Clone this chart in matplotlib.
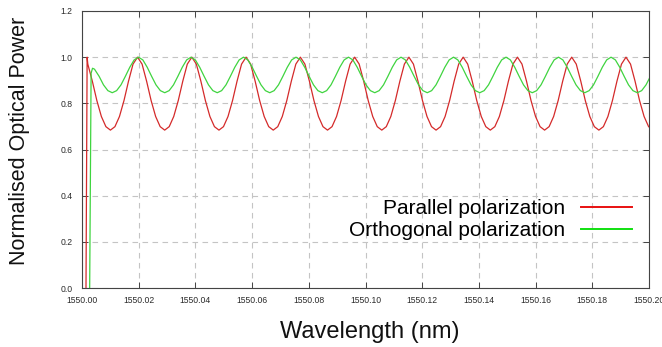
import numpy as np
import matplotlib
matplotlib.use('Agg')
import matplotlib.pyplot as plt
from matplotlib.lines import Line2D
from matplotlib.ticker import FormatStrFormatter

plt.rcParams['font.family'] = ['Liberation Sans', 'DejaVu Sans']

# start-up part of each trace (offset from 1550 nm)
red_start_wl = [0.0014, 0.0018]
red_start_p = [0.0, 1.0]
green_start_wl = [0.0027, 0.0032, 0.0037, 0.0044]
green_start_p = [0.0, 0.93, 0.952, 0.948]

# periodic part at evenly spaced wavelengths
red_wl_first, red_wl_last = 0.00204, 0.20145
red_p = [
    0.970, 0.896, 0.812, 0.743, 0.699, 0.684, 0.699, 0.743, 0.812, 0.896, 0.970,
    1.000, 0.970, 0.896, 0.812, 0.743, 0.699, 0.684, 0.699, 0.743, 0.812, 0.896, 0.970,
    1.000, 0.970, 0.896, 0.812, 0.743, 0.699, 0.684, 0.699, 0.743, 0.812, 0.896, 0.970,
    1.000, 0.970, 0.896, 0.812, 0.743, 0.699, 0.684, 0.699, 0.743, 0.812, 0.896, 0.970,
    1.000, 0.970, 0.896, 0.812, 0.743, 0.699, 0.684, 0.699, 0.743, 0.812, 0.896, 0.970,
    1.000, 0.970, 0.896, 0.812, 0.743, 0.699, 0.684, 0.699, 0.743, 0.812, 0.896, 0.970,
    1.000, 0.970, 0.896, 0.812, 0.743, 0.699, 0.684, 0.699, 0.743, 0.812, 0.896, 0.970,
    1.000, 0.970, 0.896, 0.812, 0.743, 0.699, 0.684, 0.699, 0.743, 0.812, 0.896, 0.970,
    1.000, 0.970, 0.896, 0.812, 0.743, 0.699, 0.684, 0.699, 0.743, 0.812, 0.896, 0.970,
    1.000, 0.970, 0.896, 0.812, 0.743, 0.699, 0.684, 0.699, 0.743, 0.812, 0.896, 0.970,
    1.000, 0.970, 0.896, 0.812, 0.743, 0.699, 0.684,
]
green_wl_first, green_wl_last = 0.00603, 0.20049
green_p = [
    0.917, 0.880, 0.855, 0.846, 0.855, 0.880, 0.917, 0.956, 0.988,
    1.000, 0.988, 0.956, 0.917, 0.880, 0.855, 0.846, 0.855, 0.880, 0.917, 0.956, 0.988,
    1.000, 0.988, 0.956, 0.917, 0.880, 0.855, 0.846, 0.855, 0.880, 0.917, 0.956, 0.988,
    1.000, 0.988, 0.956, 0.917, 0.880, 0.855, 0.846, 0.855, 0.880, 0.917, 0.956, 0.988,
    1.000, 0.988, 0.956, 0.917, 0.880, 0.855, 0.846, 0.855, 0.880, 0.917, 0.956, 0.988,
    1.000, 0.988, 0.956, 0.917, 0.880, 0.855, 0.846, 0.855, 0.880, 0.917, 0.956, 0.988,
    1.000, 0.988, 0.956, 0.917, 0.880, 0.855, 0.846, 0.855, 0.880, 0.917, 0.956, 0.988,
    1.000, 0.988, 0.956, 0.917, 0.880, 0.855, 0.846, 0.855, 0.880, 0.917, 0.956, 0.988,
    1.000, 0.988, 0.956, 0.917, 0.880, 0.855, 0.846, 0.855, 0.880, 0.917, 0.956, 0.988,
    1.000, 0.988, 0.956, 0.917, 0.880, 0.855, 0.846, 0.855, 0.880, 0.917, 0.956, 0.988,
    1.000, 0.988, 0.956, 0.917, 0.880, 0.855, 0.846, 0.855, 0.880, 0.917,
]

x_ticks = [1550.00, 1550.02, 1550.04, 1550.06, 1550.08, 1550.10,
           1550.12, 1550.14, 1550.16, 1550.18, 1550.20]
y_ticks = [0.0, 0.2, 0.4, 0.6, 0.8, 1.0, 1.2]
labels = ['Parallel polarization', 'Orthogonal polarization']

red_wl = 1550 + np.concatenate([red_start_wl, np.linspace(red_wl_first, red_wl_last, len(red_p))])
red_all = np.concatenate([red_start_p, red_p])
green_wl = 1550 + np.concatenate([green_start_wl, np.linspace(green_wl_first, green_wl_last, len(green_p))])
green_all = np.concatenate([green_start_p, green_p])

fig = plt.figure(figsize=(6.62, 3.47), dpi=100)
ax = fig.add_axes([0.1239, 0.1700, 0.8565, 0.7983])

ax.plot(red_wl, red_all, color='#d42a2a', lw=0.9)
ax.plot(green_wl, green_all, color='#3fd43f', lw=0.9)

ax.set_xlim(1550.00, 1550.20)
ax.set_ylim(0.0, 1.2)
ax.set_xticks(x_ticks)
ax.set_yticks(y_ticks)
ax.xaxis.set_major_formatter(FormatStrFormatter('%.2f'))
ax.yaxis.set_major_formatter(FormatStrFormatter('%.1f'))
ax.tick_params(direction='in', length=4, width=0.7, color='#444444',
               labelsize=6.2, labelcolor='#2a2a2a', top=True, right=True)
ax.tick_params(axis='x', pad=6)
ax.tick_params(axis='y', pad=7)
ax.grid(True, color='#c4c4c4', lw=0.8, linestyle=(0, (5, 4)))
for s in ax.spines.values():
    s.set_color('#444444')
    s.set_linewidth(0.8)

fig.text(20 / 662, 1 - 141 / 347, 'Normalised Optical Power', rotation=90,
         ha='center', va='center', fontsize=15.5, color='#111111')
fig.text(370 / 662, 1 - 332 / 347, 'Wavelength (nm)',
         ha='center', va='center', fontsize=17, color='#111111')

handles = [Line2D([], [], color='#e81010', lw=1.4),
           Line2D([], [], color='#10e010', lw=1.4)]
ax.legend(handles, labels, loc='center right', bbox_to_anchor=(0.970, 0.2466),
          frameon=False, markerfirst=False, fontsize=15, handlelength=2.45,
          handletextpad=0.75, labelspacing=0.15, borderpad=0, borderaxespad=0)

fig.savefig('out.png', dpi=100)
